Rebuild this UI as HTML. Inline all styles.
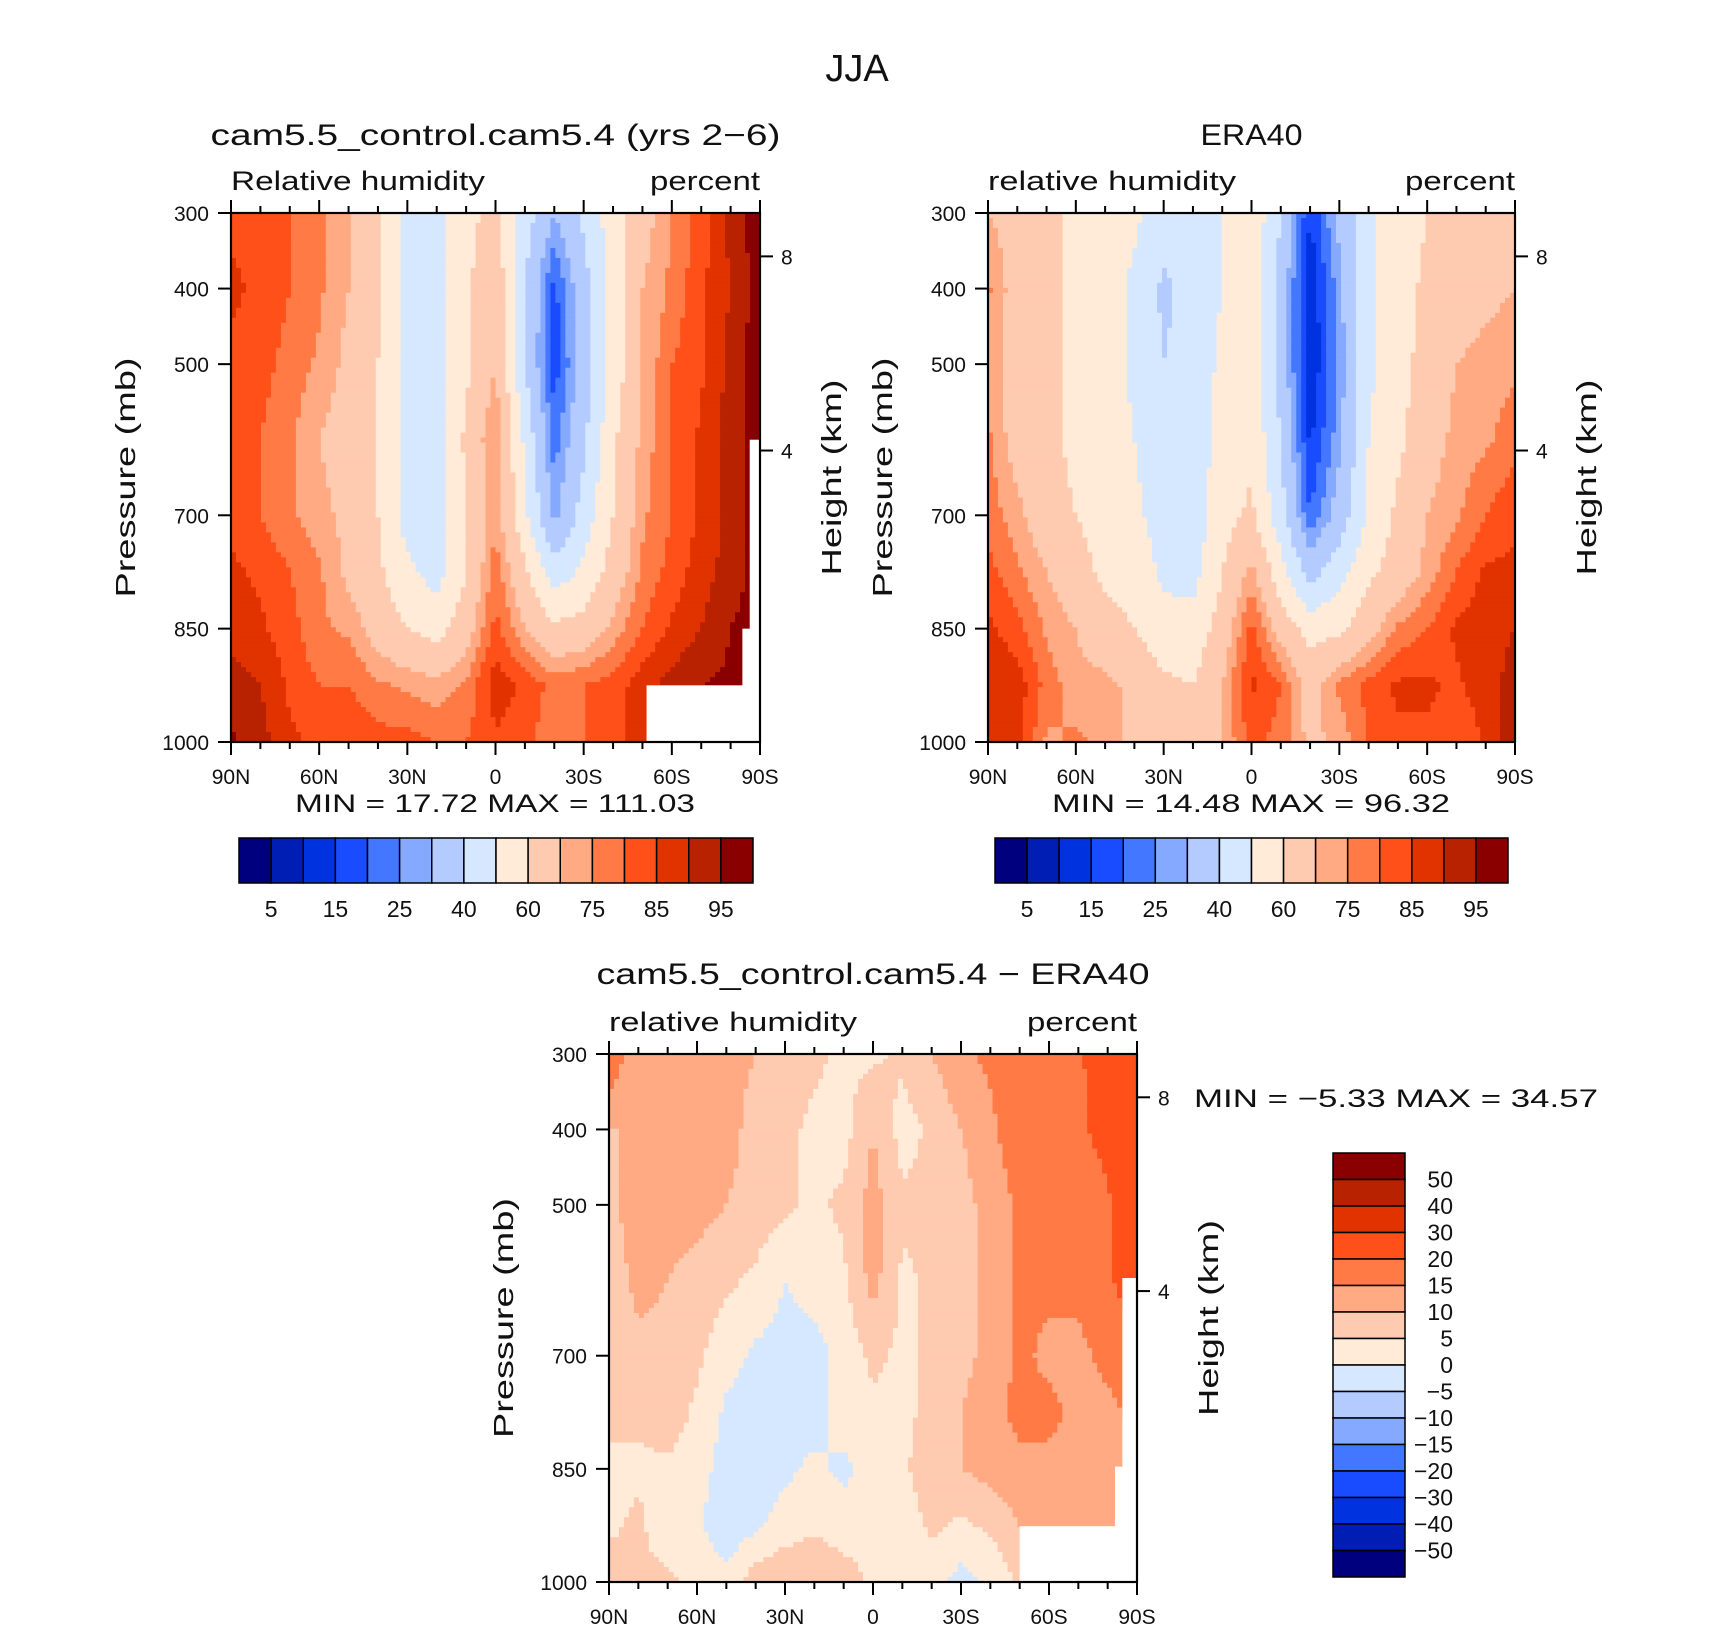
<!DOCTYPE html>
<html><head><meta charset="utf-8">
<style>
html,body{margin:0;padding:0;background:#fff;}
svg{display:block;font-family:"Liberation Sans",sans-serif;}
text{fill:#111;}
</style></head>
<body>
<svg id="fig" width="1710" height="1631" viewBox="0 0 1710 1631" xmlns="http://www.w3.org/2000/svg">
<rect width="1710" height="1631" fill="#fff"/>
<text x="857" y="81" font-size="38" text-anchor="middle">JJA</text>
<g id="layer"></g>
</svg>
<script>
// ---- data ----
const lats = [0,10,20,30,40,50,60,70,80,90,100,110,120,130,140,150,160,170,180]; // degrees from 90N
const plevs = [300,400,500,600,700,775,850,925,1000];
const xTickLabels = ["90N","60N","30N","0","30S","60S","90S"];
const yTickLabels = [300,400,500,700,850,1000];
const absLevels = [5,10,15,20,25,30,40,50,60,70,75,80,85,90,95];
const absBarLabels = ["5","15","25","40","60","75","85","95"];
const diffLevels = [-50,-40,-30,-20,-15,-10,-5,0,5,10,15,20,30,40,50];
const diffBarLabels = ["50","40","30","20","15","10","5","0","−5","−10","−15","−20","−30","−40","−50"];
const palette = ["#00007f","#001eb4","#0032e0","#1a4cff","#4477ff","#85a9ff","#b3cbff","#d6e8ff","#ffebd8","#ffcbb0","#ffaa82","#ff7a45","#ff5019","#e03300","#b82200","#8a0000"];

const camRH = [
 [84,83,80,76,70,62,46,46,58,62,45,30,42,55,66,76,82,92,98],
 [86,84,80,76,70,62,46,46,58,68,40,18,36,55,70,76,84,90,98],
 [84,82,78,74,68,60,46,46,58,70,40,17,34,54,70,80,84,92,98],
 [82,80,76,70,66,60,46,46,62,76,48,22,38,58,72,80,86,92,98],
 [84,80,76,72,68,60,46,46,60,74,52,28,44,60,74,80,86,92,98],
 [86,84,80,76,68,62,52,46,60,78,62,44,52,64,76,82,88,92,98],
 [88,86,82,76,74,66,60,56,66,82,70,62,64,72,80,86,90,95,98],
 [92,90,84,80,80,76,74,72,76,88,84,78,80,82,88,92,95,96,98],
 [96,92,86,84,84,82,82,80,80,84,82,76,80,84,86,90,92,95,98]];
const eraRH = [
 [70,66,62,58,55,52,45,44,50,58,40,15,32,48,55,60,62,64,66],
 [76,66,62,58,55,48,38,44,50,56,36,10,28,48,56,62,66,68,70],
 [74,66,62,58,55,48,40,44,52,56,36,10,26,48,56,64,70,72,74],
 [76,66,62,58,55,50,44,44,54,58,40,14,28,50,58,66,72,74,78],
 [78,72,64,60,56,52,46,44,56,62,44,20,34,52,62,70,74,80,84],
 [82,76,70,64,58,56,48,46,60,72,54,36,46,58,64,72,80,86,86],
 [86,82,74,70,64,60,54,54,64,82,66,56,58,66,76,80,86,88,90],
 [90,88,78,72,72,68,62,60,70,86,80,66,76,82,86,86,84,88,92],
 [90,88,74,76,74,68,66,64,70,82,78,68,72,80,84,84,80,86,94]];
const diffRH = [
 [20,10,12,14,12,10,8,6,4,4,6,10,14,16,18,19,19,24,30],
 [10,10,12,14,12,8,6,4,3,10,3,6,10,14,18,18,19,22,30],
 [8,14,12,12,10,8,6,4,6,12,6,6,8,12,16,18,16,19,28],
 [6,12,10,8,6,4,0,2,4,12,4,6,8,12,16,16,16,19,24],
 [6,8,8,6,2,-1,-2,-2,2,6,4,6,8,12,16,14,14,16,18],
 [6,6,8,4,-1,-2,-1,-2,2,4,4,6,10,14,16,16,14,14,16],
 [4,4,4,2,-2,-2,-1,1,-1,2,4,8,10,12,14,14,14,14,14],
 [4,6,2,1,-4,-1,2,4,2,2,2,6,4,6,10,12,14,14,14],
 [8,6,6,4,2,8,10,10,8,4,2,2,-2,1,6,10,14,14,14]];
// missing-data regions: [lat0, lat1, p0, p1]
const missingCam = [[141.4,180,925,1000],[176.5,180,600,1000],[174,180,850,1000]];
const missingDiff = [[140,180,926,1000],[175,180,597,1000],[172.5,180,847,1000]];

const NS="http://www.w3.org/2000/svg";
const layer=document.getElementById('layer');
function mk(tag,attrs,parent,txt){const e=document.createElementNS(NS,tag);for(const k in attrs)e.setAttribute(k,attrs[k]);if(txt!==undefined)e.textContent=txt;(parent||layer).appendChild(e);return e;}
function levelIndex(v,lv){let i=0;while(i<lv.length&&v>=lv[i])i++;return i;}
function sample(grid,lat,p){
  let fi=lat/10; let i0=Math.min(Math.floor(fi),17); let tx=fi-i0;
  let j0=0; while(j0<plevs.length-2&&p>plevs[j0+1])j0++;
  let ty=(p-plevs[j0])/(plevs[j0+1]-plevs[j0]);
  const a=grid[j0][i0],b=grid[j0][i0+1],c=grid[j0+1][i0],d=grid[j0+1][i0+1];
  return (a*(1-tx)+b*tx)*(1-ty)+(c*(1-tx)+d*tx)*ty;
}

function panel(o){
  const g=mk('g',{});
  
  
  const X0=o.x,Y0=o.y,W=o.w,H=o.h;
  const xs=lat=>X0+lat/180*W;
  const ys=p=>Y0+(p-300)/700*H;
  const N=106, cw=W/N, ch=H/N;
  const field=mk('g',{},g);
  
  
  for(let r=0;r<N;r++){
    const p=300+(r+0.5)/N*700;
    let start=0,cur=-1;
    for(let c=0;c<=N;c++){
      let idx=-2;
      if(c<N){const lat=(c+0.5)/N*180; idx=levelIndex(sample(o.data,lat,p),o.levels);}
      if(idx!==cur){
        if(cur>=0){const rc=mk('rect',{x:(X0+start*cw).toFixed(2),y:(Y0+r*ch).toFixed(2),width:((c-start)*cw+0.6).toFixed(2),height:(ch+0.6).toFixed(2),fill:palette[cur]},field);
          
          }
        cur=idx;start=c;
      }
    }
  }
  (o.missing||[]).forEach(m=>{
    const w=mk('rect',{x:xs(m[0]),y:ys(m[2]),width:xs(m[1])-xs(m[0]),height:ys(m[3])-ys(m[2]),fill:'#fff'},g);
    
    
  });
  const fr=mk('rect',{x:X0,y:Y0,width:W,height:H,fill:'none',stroke:'#000','stroke-width':2.2},g);
  
  
  for(let lat=0;lat<=180;lat+=10){
    const major=lat%30===0, L=major?13:7;
    mk('line',{x1:xs(lat),x2:xs(lat),y1:Y0,y2:Y0-L,stroke:'#000','stroke-width':2},g);
    mk('line',{x1:xs(lat),x2:xs(lat),y1:Y0+H,y2:Y0+H+L,stroke:'#000','stroke-width':2},g);
  }
  xTickLabels.forEach((t,i)=>{
    const e=mk('text',{x:xs(i*30),y:Y0+H+42,'font-size':21,'text-anchor':'middle'},g,t);
    
    
  });
  yTickLabels.forEach(p=>{
    mk('line',{x1:X0,x2:X0-13,y1:ys(p),y2:ys(p),stroke:'#000','stroke-width':2},g);
    const e=mk('text',{x:X0-22,y:ys(p)+8,'font-size':21,'text-anchor':'end'},g,String(p));
    
    
  });
  [[8,0.082],[4,0.449]].forEach(h=>{
    const y=Y0+h[1]*H;
    mk('line',{x1:X0+W,x2:X0+W+13,y1:y,y2:y,stroke:'#000','stroke-width':2},g);
    const e=mk('text',{x:X0+W+21,y:y+8,'font-size':21},g,String(h[0]));
    
    
  });
  let e;
  e=mk('text',{x:X0+W/2,y:o.titleY,'font-size':30,'text-anchor':'middle',textLength:o.titleLen,lengthAdjust:'spacingAndGlyphs'},g,o.title);
   
  e=mk('text',{x:X0,y:Y0-23,'font-size':27,textLength:o.varLen,lengthAdjust:'spacingAndGlyphs'},g,o.varName);
   
  e=mk('text',{x:X0+W,y:Y0-23,'font-size':27,'text-anchor':'end',textLength:110,lengthAdjust:'spacingAndGlyphs'},g,'percent');
   
  e=mk('text',{transform:`translate(${X0-96},${Y0+H/2}) rotate(-90)`,'font-size':28,'text-anchor':'middle',textLength:240,lengthAdjust:'spacingAndGlyphs'},g,'Pressure (mb)');
   
  e=mk('text',{transform:`translate(${X0+W+81},${Y0+H/2}) rotate(-90)`,'font-size':28,'text-anchor':'middle',textLength:196,lengthAdjust:'spacingAndGlyphs'},g,'Height (km)');
   
  e=mk('text',{x:o.mmX,y:o.mmY,'font-size':25,'text-anchor':o.mmAnchor||'middle','xml:space':'preserve',textLength:o.mmLen,lengthAdjust:'spacingAndGlyphs'},g,o.minmax);
   
}

function hbar(x,y,w,h,name){
  const g=mk('g',{});
  
  
  const bw=w/palette.length;
  palette.forEach((c,i)=>{
    const r=mk('rect',{x:x+i*bw,y:y,width:bw,height:h,fill:c,stroke:'#000','stroke-width':1.5},g);
    
    
  });
  absBarLabels.forEach((t,k)=>{
    const e=mk('text',{x:x+(2*k+1)*bw,y:y+h+34,'font-size':23,'text-anchor':'middle'},g,t);
    
    
  });
}
function vbar(x,y,w,h){
  const g=mk('g',{});
  
  
  const bh=h/palette.length;
  palette.slice().reverse().forEach((c,i)=>{
    const r=mk('rect',{x:x,y:y+i*bh,width:w,height:bh,fill:c,stroke:'#000','stroke-width':1.5},g);
    
    
  });
  diffBarLabels.forEach((t,k)=>{
    const e=mk('text',{x:x+w+48,y:y+(k+1)*bh+8,'font-size':23,'text-anchor':'end'},g,t);
    
    
  });
}

panel({name:'model-panel',x:231,y:213,w:529,h:529,data:camRH,levels:absLevels,missing:missingCam,
  title:'cam5.5_control.cam5.4 (yrs 2−6)',titleY:145,titleLen:570,varName:'Relative humidity',varLen:254,
  minmax:'MIN =   17.72   MAX = 111.03',mmX:495,mmY:812,mmLen:400});
panel({name:'obs-panel',x:988,y:213,w:527,h:529,data:eraRH,levels:absLevels,missing:[],
  title:'ERA40',titleY:145,titleLen:102,varName:'relative humidity',varLen:248,
  minmax:'MIN =   14.48   MAX =   96.32',mmX:1251,mmY:812,mmLen:398});
panel({name:'diff-panel',x:609,y:1054,w:528,h:528,data:diffRH,levels:diffLevels,missing:missingDiff,
  title:'cam5.5_control.cam5.4 − ERA40',titleY:984,titleLen:553,varName:'relative humidity',varLen:248,
  minmax:'MIN =   −5.33   MAX =   34.57',mmX:1194,mmY:1107,mmAnchor:'start',mmLen:404});
hbar(239,838,514,45,'model-colorbar');
hbar(995,838,513,45,'obs-colorbar');
vbar(1333,1153,72,424);
</script>
</body></html>
